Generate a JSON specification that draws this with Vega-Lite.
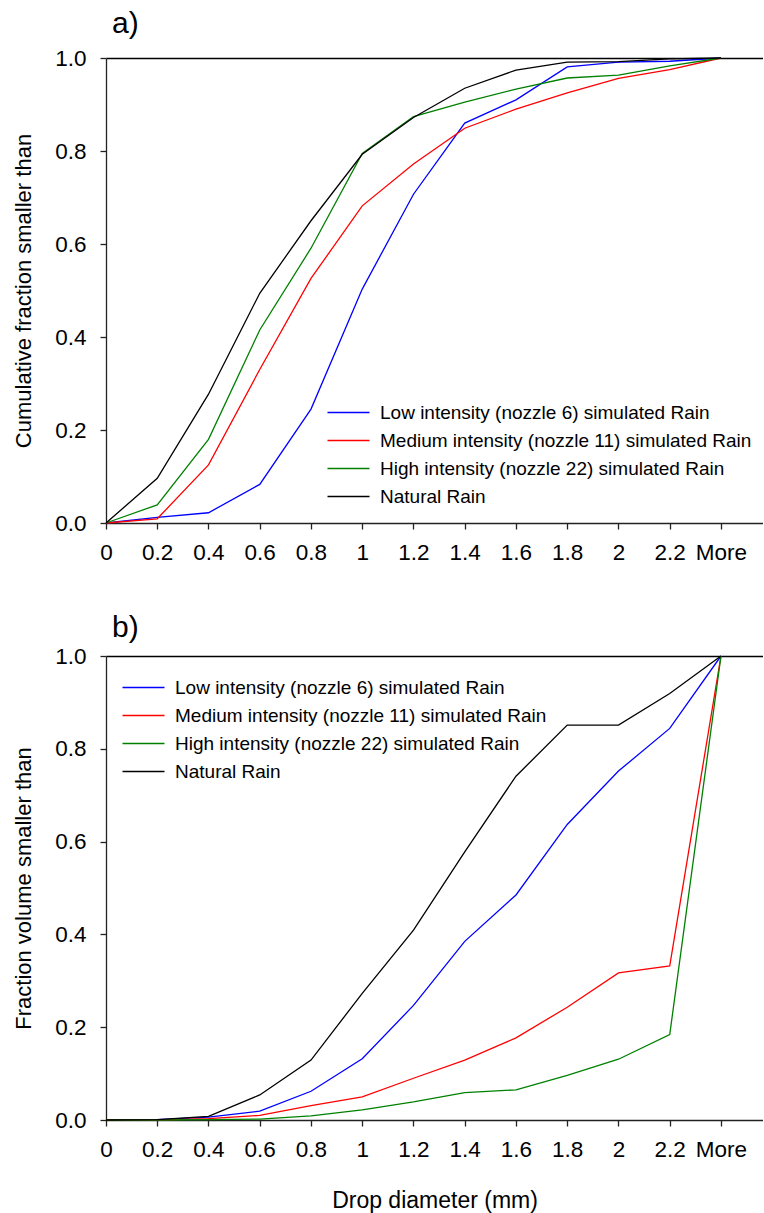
{
  "$schema": "https://vega.github.io/schema/vega-lite/v6.json",
  "padding": {"left": 12, "top": 9, "right": 0, "bottom": 0},
  "spacing": 49,
  "config": {
    "font": "Liberation Sans",
    "view": {"stroke": null},
    "axis": {"grid": false, "domainColor": "#222", "tickColor": "#222", "labelColor": "#000", "titleColor": "#000", "labelFont": "Liberation Sans", "titleFont": "Liberation Sans", "titleFontWeight": "normal", "labelFontSize": 22.5, "titleFontSize": 22, "tickSize": 6, "domainWidth": 1.3, "tickWidth": 1.3},
    "legend": {"labelFont": "Liberation Sans", "labelFontSize": 19, "labelColor": "#000", "labelLimit": 0},
    "title": {"font": "Liberation Sans", "fontWeight": "normal", "fontSize": 30, "color": "#000", "anchor": "start", "frame": "group"}
  },
  "datasets": {
    "cum": [
      {"d":"0","s":"Low intensity (nozzle 6) simulated Rain","v":0},
      {"d":"0.2","s":"Low intensity (nozzle 6) simulated Rain","v":0.012},
      {"d":"0.4","s":"Low intensity (nozzle 6) simulated Rain","v":0.022},
      {"d":"0.6","s":"Low intensity (nozzle 6) simulated Rain","v":0.083},
      {"d":"0.8","s":"Low intensity (nozzle 6) simulated Rain","v":0.245},
      {"d":"1","s":"Low intensity (nozzle 6) simulated Rain","v":0.503},
      {"d":"1.2","s":"Low intensity (nozzle 6) simulated Rain","v":0.707},
      {"d":"1.4","s":"Low intensity (nozzle 6) simulated Rain","v":0.86},
      {"d":"1.6","s":"Low intensity (nozzle 6) simulated Rain","v":0.91},
      {"d":"1.8","s":"Low intensity (nozzle 6) simulated Rain","v":0.981},
      {"d":"2","s":"Low intensity (nozzle 6) simulated Rain","v":0.991},
      {"d":"2.2","s":"Low intensity (nozzle 6) simulated Rain","v":0.993},
      {"d":"More","s":"Low intensity (nozzle 6) simulated Rain","v":1},
      {"d":"0","s":"Medium intensity (nozzle 11) simulated Rain","v":0},
      {"d":"0.2","s":"Medium intensity (nozzle 11) simulated Rain","v":0.009},
      {"d":"0.4","s":"Medium intensity (nozzle 11) simulated Rain","v":0.125},
      {"d":"0.6","s":"Medium intensity (nozzle 11) simulated Rain","v":0.33},
      {"d":"0.8","s":"Medium intensity (nozzle 11) simulated Rain","v":0.526},
      {"d":"1","s":"Medium intensity (nozzle 11) simulated Rain","v":0.682},
      {"d":"1.2","s":"Medium intensity (nozzle 11) simulated Rain","v":0.772},
      {"d":"1.4","s":"Medium intensity (nozzle 11) simulated Rain","v":0.849},
      {"d":"1.6","s":"Medium intensity (nozzle 11) simulated Rain","v":0.89},
      {"d":"1.8","s":"Medium intensity (nozzle 11) simulated Rain","v":0.925},
      {"d":"2","s":"Medium intensity (nozzle 11) simulated Rain","v":0.956},
      {"d":"2.2","s":"Medium intensity (nozzle 11) simulated Rain","v":0.975},
      {"d":"More","s":"Medium intensity (nozzle 11) simulated Rain","v":1},
      {"d":"0","s":"High intensity (nozzle 22) simulated Rain","v":0},
      {"d":"0.2","s":"High intensity (nozzle 22) simulated Rain","v":0.039},
      {"d":"0.4","s":"High intensity (nozzle 22) simulated Rain","v":0.18},
      {"d":"0.6","s":"High intensity (nozzle 22) simulated Rain","v":0.415},
      {"d":"0.8","s":"High intensity (nozzle 22) simulated Rain","v":0.591},
      {"d":"1","s":"High intensity (nozzle 22) simulated Rain","v":0.795},
      {"d":"1.2","s":"High intensity (nozzle 22) simulated Rain","v":0.874},
      {"d":"1.4","s":"High intensity (nozzle 22) simulated Rain","v":0.905},
      {"d":"1.6","s":"High intensity (nozzle 22) simulated Rain","v":0.933},
      {"d":"1.8","s":"High intensity (nozzle 22) simulated Rain","v":0.957},
      {"d":"2","s":"High intensity (nozzle 22) simulated Rain","v":0.963},
      {"d":"2.2","s":"High intensity (nozzle 22) simulated Rain","v":0.983},
      {"d":"More","s":"High intensity (nozzle 22) simulated Rain","v":1},
      {"d":"0","s":"Natural Rain","v":0},
      {"d":"0.2","s":"Natural Rain","v":0.096},
      {"d":"0.4","s":"Natural Rain","v":0.277},
      {"d":"0.6","s":"Natural Rain","v":0.494},
      {"d":"0.8","s":"Natural Rain","v":0.65},
      {"d":"1","s":"Natural Rain","v":0.793},
      {"d":"1.2","s":"Natural Rain","v":0.872},
      {"d":"1.4","s":"Natural Rain","v":0.935},
      {"d":"1.6","s":"Natural Rain","v":0.974},
      {"d":"1.8","s":"Natural Rain","v":0.991},
      {"d":"2","s":"Natural Rain","v":0.992},
      {"d":"2.2","s":"Natural Rain","v":0.998},
      {"d":"More","s":"Natural Rain","v":1}
    ],
    "vol": [
      {"d":"0","s":"Low intensity (nozzle 6) simulated Rain","v":0},
      {"d":"0.2","s":"Low intensity (nozzle 6) simulated Rain","v":0.001},
      {"d":"0.4","s":"Low intensity (nozzle 6) simulated Rain","v":0.006},
      {"d":"0.6","s":"Low intensity (nozzle 6) simulated Rain","v":0.019},
      {"d":"0.8","s":"Low intensity (nozzle 6) simulated Rain","v":0.062},
      {"d":"1","s":"Low intensity (nozzle 6) simulated Rain","v":0.132},
      {"d":"1.2","s":"Low intensity (nozzle 6) simulated Rain","v":0.247},
      {"d":"1.4","s":"Low intensity (nozzle 6) simulated Rain","v":0.385},
      {"d":"1.6","s":"Low intensity (nozzle 6) simulated Rain","v":0.485},
      {"d":"1.8","s":"Low intensity (nozzle 6) simulated Rain","v":0.637},
      {"d":"2","s":"Low intensity (nozzle 6) simulated Rain","v":0.752},
      {"d":"2.2","s":"Low intensity (nozzle 6) simulated Rain","v":0.844},
      {"d":"More","s":"Low intensity (nozzle 6) simulated Rain","v":1},
      {"d":"0","s":"Medium intensity (nozzle 11) simulated Rain","v":0},
      {"d":"0.2","s":"Medium intensity (nozzle 11) simulated Rain","v":0},
      {"d":"0.4","s":"Medium intensity (nozzle 11) simulated Rain","v":0.003},
      {"d":"0.6","s":"Medium intensity (nozzle 11) simulated Rain","v":0.01},
      {"d":"0.8","s":"Medium intensity (nozzle 11) simulated Rain","v":0.031},
      {"d":"1","s":"Medium intensity (nozzle 11) simulated Rain","v":0.05},
      {"d":"1.2","s":"Medium intensity (nozzle 11) simulated Rain","v":0.09},
      {"d":"1.4","s":"Medium intensity (nozzle 11) simulated Rain","v":0.129},
      {"d":"1.6","s":"Medium intensity (nozzle 11) simulated Rain","v":0.177},
      {"d":"1.8","s":"Medium intensity (nozzle 11) simulated Rain","v":0.243},
      {"d":"2","s":"Medium intensity (nozzle 11) simulated Rain","v":0.317},
      {"d":"2.2","s":"Medium intensity (nozzle 11) simulated Rain","v":0.332},
      {"d":"More","s":"Medium intensity (nozzle 11) simulated Rain","v":1},
      {"d":"0","s":"High intensity (nozzle 22) simulated Rain","v":0},
      {"d":"0.2","s":"High intensity (nozzle 22) simulated Rain","v":0},
      {"d":"0.4","s":"High intensity (nozzle 22) simulated Rain","v":0.001},
      {"d":"0.6","s":"High intensity (nozzle 22) simulated Rain","v":0.002},
      {"d":"0.8","s":"High intensity (nozzle 22) simulated Rain","v":0.009},
      {"d":"1","s":"High intensity (nozzle 22) simulated Rain","v":0.022},
      {"d":"1.2","s":"High intensity (nozzle 22) simulated Rain","v":0.039},
      {"d":"1.4","s":"High intensity (nozzle 22) simulated Rain","v":0.059},
      {"d":"1.6","s":"High intensity (nozzle 22) simulated Rain","v":0.065},
      {"d":"1.8","s":"High intensity (nozzle 22) simulated Rain","v":0.096},
      {"d":"2","s":"High intensity (nozzle 22) simulated Rain","v":0.131},
      {"d":"2.2","s":"High intensity (nozzle 22) simulated Rain","v":0.184},
      {"d":"More","s":"High intensity (nozzle 22) simulated Rain","v":1},
      {"d":"0","s":"Natural Rain","v":0},
      {"d":"0.2","s":"Natural Rain","v":0.001},
      {"d":"0.4","s":"Natural Rain","v":0.008},
      {"d":"0.6","s":"Natural Rain","v":0.054},
      {"d":"0.8","s":"Natural Rain","v":0.129},
      {"d":"1","s":"Natural Rain","v":0.273},
      {"d":"1.2","s":"Natural Rain","v":0.409},
      {"d":"1.4","s":"Natural Rain","v":0.578},
      {"d":"1.6","s":"Natural Rain","v":0.741},
      {"d":"1.8","s":"Natural Rain","v":0.851},
      {"d":"2","s":"Natural Rain","v":0.851},
      {"d":"2.2","s":"Natural Rain","v":0.919},
      {"d":"More","s":"Natural Rain","v":1}
    ]
  },
  "vconcat": [
    {
      "data": {"name": "cum"},
      "title": {"text": "a)", "dx": 6, "offset": 8},
      "width": 657,
      "height": 465,
      "mark": {"type": "line", "strokeWidth": 1.3},
      "encoding": {
        "x": {"field": "d", "type": "ordinal",
          "scale": {"type": "point", "domain": ["0","0.2","0.4","0.6","0.8","1","1.2","1.4","1.6","1.8","2","2.2","More"], "align": 0, "padding": 0.41},
          "axis": {"title": null, "labelAngle": 0, "labelPadding": 12, "labelAlign": "center"}},
        "y": {"field": "v", "type": "quantitative",
          "scale": {"domain": [0, 1], "nice": false, "zero": true},
          "axis": {"title": "Cumulative fraction smaller than", "values": [0, 0.2, 0.4, 0.6, 0.8, 1], "format": ".1f", "labelPadding": 14, "titlePadding": 19,
            "grid": true, "gridColor": "#000", "gridWidth": 1.3,
            "gridOpacity": {"condition": {"test": "datum.value >= 0.999", "value": 1}, "value": 0}}},
        "color": {"field": "s", "type": "nominal",
          "scale": {"domain": ["Low intensity (nozzle 6) simulated Rain", "Medium intensity (nozzle 11) simulated Rain", "High intensity (nozzle 22) simulated Rain", "Natural Rain"], "range": ["#0000ff", "#ff0000", "#008000", "#000000"]},
          "legend": {"title": null, "orient": "none", "legendX": 233, "legendY": 345, "symbolType": "M-4,0H4", "symbolSize": 110.25, "symbolStrokeWidth": 1.3, "labelOffset": 22, "rowPadding": 8}}
      }
    },
    {
      "data": {"name": "vol"},
      "title": {"text": "b)", "dx": 6, "offset": 2},
      "width": 657,
      "height": 464,
      "mark": {"type": "line", "strokeWidth": 1.3},
      "encoding": {
        "x": {"field": "d", "type": "ordinal",
          "scale": {"type": "point", "domain": ["0","0.2","0.4","0.6","0.8","1","1.2","1.4","1.6","1.8","2","2.2","More"], "align": 0, "padding": 0.41},
          "axis": {"title": "Drop diameter (mm)", "titleFontSize": 23, "labelAngle": 0, "labelPadding": 12, "labelAlign": "center", "titlePadding": 29}},
        "y": {"field": "v", "type": "quantitative",
          "scale": {"domain": [0, 1], "nice": false, "zero": true},
          "axis": {"title": "Fraction volume smaller than", "values": [0, 0.2, 0.4, 0.6, 0.8, 1], "format": ".1f", "labelPadding": 14, "titlePadding": 19,
            "grid": true, "gridColor": "#000", "gridWidth": 1.3,
            "gridOpacity": {"condition": {"test": "datum.value >= 0.999", "value": 1}, "value": 0}}},
        "color": {"field": "s", "type": "nominal",
          "scale": {"domain": ["Low intensity (nozzle 6) simulated Rain", "Medium intensity (nozzle 11) simulated Rain", "High intensity (nozzle 22) simulated Rain", "Natural Rain"], "range": ["#0000ff", "#ff0000", "#008000", "#000000"]},
          "legend": {"title": null, "orient": "none", "legendX": 28, "legendY": 22, "symbolType": "M-4,0H4", "symbolSize": 110.25, "symbolStrokeWidth": 1.3, "labelOffset": 22, "rowPadding": 8}}
      }
    }
  ],
  "resolve": {"scale": {"color": "independent"}, "legend": {"color": "independent"}}
}
